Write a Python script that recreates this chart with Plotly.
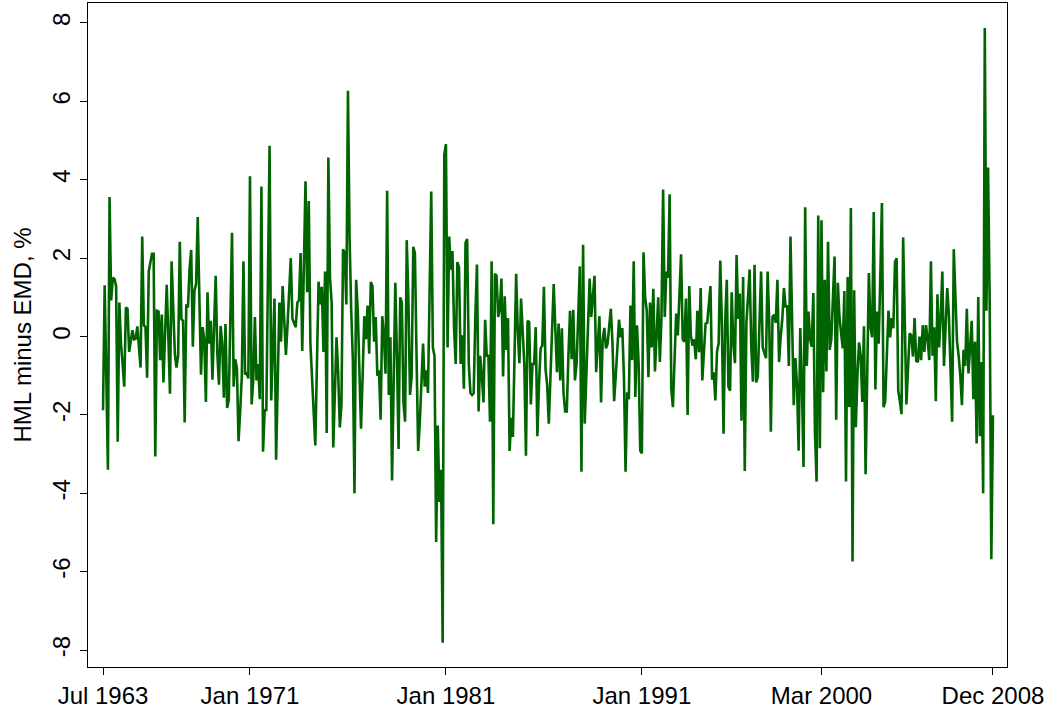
import plotly.graph_objects as go

# Monthly HML minus EMD (%), Jul 1963 .. Dec 2008 (546 months)
values = [
    -1.88, 1.31, -1.0, -3.40, 3.56, 0.92, 1.50, 1.47, 1.29, -2.68, 0.87, -0.18,
    -0.7, -1.28, 0.74, 0.71, -0.39, -0.13, 0.16, -0.07, -0.05, 0.26, -0.2, -0.79,
    2.55, 0.29, 0.24, -1.05, 1.66, 1.9, 2.11, 2.11, -3.06, 0.66, 0.64, -0.60,
    0.56, -1.17, 0.1, 1.32, 0.0, -1.46, 1.92, 0.7, -0.45, -0.79, -0.49, 2.42,
    0.45, 0.40, -2.19, 0.82, 0.74, 1.73, 2.21, -0.26, 1.18, 1.34, 3.05, 1.0,
    -0.97, 0.24, -0.07, -1.67, 1.13, -0.18, 0.40, -1.10, 0.2, 1.55, -0.44, -1.23,
    0.27, -0.18, -1.56, 0.32, -1.82, -1.63, 0.5, 2.65, -1.28, -0.58, -0.81, -2.67,
    -1.9, -1.02, 1.92, -0.97, -0.92, -1.07, 4.09, -1.73, -1.12, 0.50, -1.12, -0.70,
    -1.60, 3.83, -2.94, -1.86, -1.9, 1.5, 4.87, -1.63, -0.5, 0.97, -3.14, -1.0,
    0.87, -0.13, 1.29, 0.4, -0.47, 0.3, 1.2, 2.00, 0.45, 0.35, 0.24, 0.87,
    0.92, 2.13, -0.37, 1.8, 3.96, 1.13, 3.46, -0.18, -1.0, -2.0, -2.78, -0.7,
    1.40, 0.82, 1.27, -0.39, 1.66, -2.46, 4.57, 1.50, 0.87, -2.83, -1.3, -0.02,
    -0.91, -2.32, -1.75, 2.23, 2.13, 0.82, 6.27, 2.5, 0.66, -0.6, -4.00, 1.45,
    0.66, -0.8, -2.35, -1.0, 0.52, -0.07, 0.79, -0.44, 1.39, 1.29, -0.13, 0.50,
    -1.00, -0.86, -2.12, 0.52, 0.03, -0.95, 3.72, -1.49, -0.02, -3.67, -1.0, 1.37,
    -0.5, -2.87, 1.00, 0.87, -1.70, -2.17, 2.46, 0.97, -1.49, -1.02, 2.29, 2.13,
    -0.49, -2.92, -2.17, -1.0, -0.18, -1.28, -0.86, -1.44, 1.0, 3.70, -0.28, -0.49,
    -5.24, -2.27, -4.22, -3.4, -7.81, 4.64, 4.91, -0.28, 2.55, 1.71, 2.18, 0.19,
    -0.70, 1.90, 1.76, -0.70, 0.03, -1.33, 2.39, 2.49, -0.70, -1.44, -1.49, -1.44,
    0.5, 1.84, -1.91, -0.49, -1.0, -1.68, 0.43, -0.49, -0.49, -2.17, 1.92, -4.79,
    1.60, 1.55, 0.50, 0.71, 1.48, -1.02, 1.03, -0.34, 0.47, -2.92, -2.07, -2.56,
    -0.5, 1.60, 0.14, -0.68, 0.97, -0.07, -0.70, -3.04, 0.40, 0.37, -1.73, -0.70,
    -0.70, 0.24, -2.54, -1.2, -0.30, -0.23, 1.27, -0.83, -1.23, -2.22, -1.0, 0.2,
    1.34, 0.2, -0.91, 0.33, -1.12, 0.21, -1.44, -1.91, -1.91, -0.5, 0.66, -0.58,
    0.68, -1.12, -0.70, 0.5, 1.79, -3.45, 2.34, -2.22, -1.02, 0.2, 1.48, 0.50,
    0.97, 1.55, -0.91, -0.2, 0.52, -1.68, -0.07, 0.22, -0.30, -0.18, 0.2, 0.71,
    -0.18, -1.65, -1.0, -0.39, 0.43, -0.02, 0.22, -1.0, -3.45, -1.42, -1.6, 0.79,
    -0.6, 1.92, -1.54, 0.29, -0.7, -2.91, -2.98, 2.15, 1.0, 0.66, -1.04, 0.87,
    -0.28, 1.22, -0.89, 0.03, 1.00, -0.65, 0.5, 3.75, 0.50, 1.66, 1.50, 3.63,
    -1.33, -1.80, -0.81, 0.59, 0.03, 1.0, 2.10, -0.07, -0.13, 0.97, -2.00, 1.29,
    0.03, -0.23, -0.07, -0.58, 0.66, -0.4, 1.24, -1.12, -0.4, 0.33, 0.35, 0.8,
    1.29, -1.10, -0.91, -1.63, -0.39, -0.18, 1.94, 0.3, -2.48, 0.35, 1.45, -1.28,
    -1.38, 1.13, -0.18, -0.68, 2.08, 0.45, 1.10, -2.15, 1.52, -3.43, 0.35, 1.0,
    1.71, -0.28, -1.15, 1.83, -1.17, -1.02, 0.3, 1.66, -0.28, -0.4, -0.55, 1.66,
    0.35, -2.43, 0.50, 0.56, 0.35, 1.45, -0.65, 0.0, 0.45, 1.24, 0.77, 0.77,
    -0.75, 2.55, 0.0, -1.75, -0.55, -1.23, -2.91, 0.22, -1.23, -3.33, 3.30, -0.75,
    0.64, -0.07, -0.26, 1.11, -2.48, -3.70, 3.09, -2.85, 2.97, -1.42, 1.45, -0.89,
    2.42, -0.34, -0.07, 0.87, 2.04, -2.12, 1.37, 0.5, 0.03, -0.30, 1.16, -3.70,
    1.52, -1.80, 3.28, -5.74, 1.18, -2.31, -1.0, -0.15, -0.49, -1.67, 0.26, -3.51,
    -1.0, 1.62, 0.24, -0.02, 3.18, -1.35, 0.64, -0.18, 1.5, 3.41, -1.80, -1.65,
    -0.5, 0.66, -0.02, 0.47, 0.21, 1.90, 2.00, -1.38, -1.65, -1.98, 2.53, 0.4,
    -1.73, -0.8, 0.08, 0.03, -0.51, 0.47, -0.62, -0.65, 0.0, -0.6, 0.29, -0.39,
    0.29, -0.07, -0.6, 1.92, -0.49, 0.24, -1.65, 1.08, -0.28, 0.5, 1.66, -0.75,
    0.3, 1.24, 0.56, -0.81, -2.17, 2.23, 0.8, -0.13, -0.49, -1.0, -1.75, -0.34,
    -0.75, 0.71, -0.94, -0.3, 0.40, -1.60, -0.13, -2.73, 1.01, -2.54, -0.65, -4.00,
    7.87, 0.66, 4.31, 0.87, -5.68, -2.01,
]
months = list(range(len(values)))  # 0 = Jul 1963

tick_months = [0, 90, 210, 330, 440, 545]
tick_labels = ["Jul 1963", "Jan 1971", "Jan 1981", "Jan 1991", "Mar 2000", "Dec 2008"]
y_ticks = [-8, -6, -4, -2, 0, 2, 4, 6, 8]

fig = go.Figure(
    go.Scatter(
        x=months, y=values, mode="lines",
        line=dict(color="#006400", width=2.6),
        hoverinfo="skip",
    )
)

font = dict(family="Liberation Sans, Arial, sans-serif", size=24, color="black")

fig.update_layout(
    width=1057, height=721,
    margin=dict(l=88, r=50, t=3, b=54, autoexpand=False),
    paper_bgcolor="white", plot_bgcolor="white",
    showlegend=False,
    font=font,
)
fig.update_xaxes(
    range=[-9.2, 553.6],
    tickvals=tick_months, ticktext=tick_labels,
    showgrid=False, zeroline=False,
    showline=True, linecolor="black", linewidth=1, mirror=True,
    ticks="outside", ticklen=7, tickcolor="black",
    tickfont=font, automargin=False,
)
fig.update_yaxes(
    range=[-8.43, 8.51],
    tickvals=y_ticks, ticktext=[str(v) for v in y_ticks],
    tickangle=-90,
    showgrid=False, zeroline=False,
    showline=True, linecolor="black", linewidth=1, mirror=True,
    ticks="outside", ticklen=7, tickcolor="black",
    tickfont=font, automargin=False,
    title=dict(text="HML minus EMD, %", font=font, standoff=10),
)

fig.write_html(
    "out.html",
    config={"displayModeBar": False},
    post_script="document.body.style.margin='0px';document.body.style.overflow='hidden';",
)
